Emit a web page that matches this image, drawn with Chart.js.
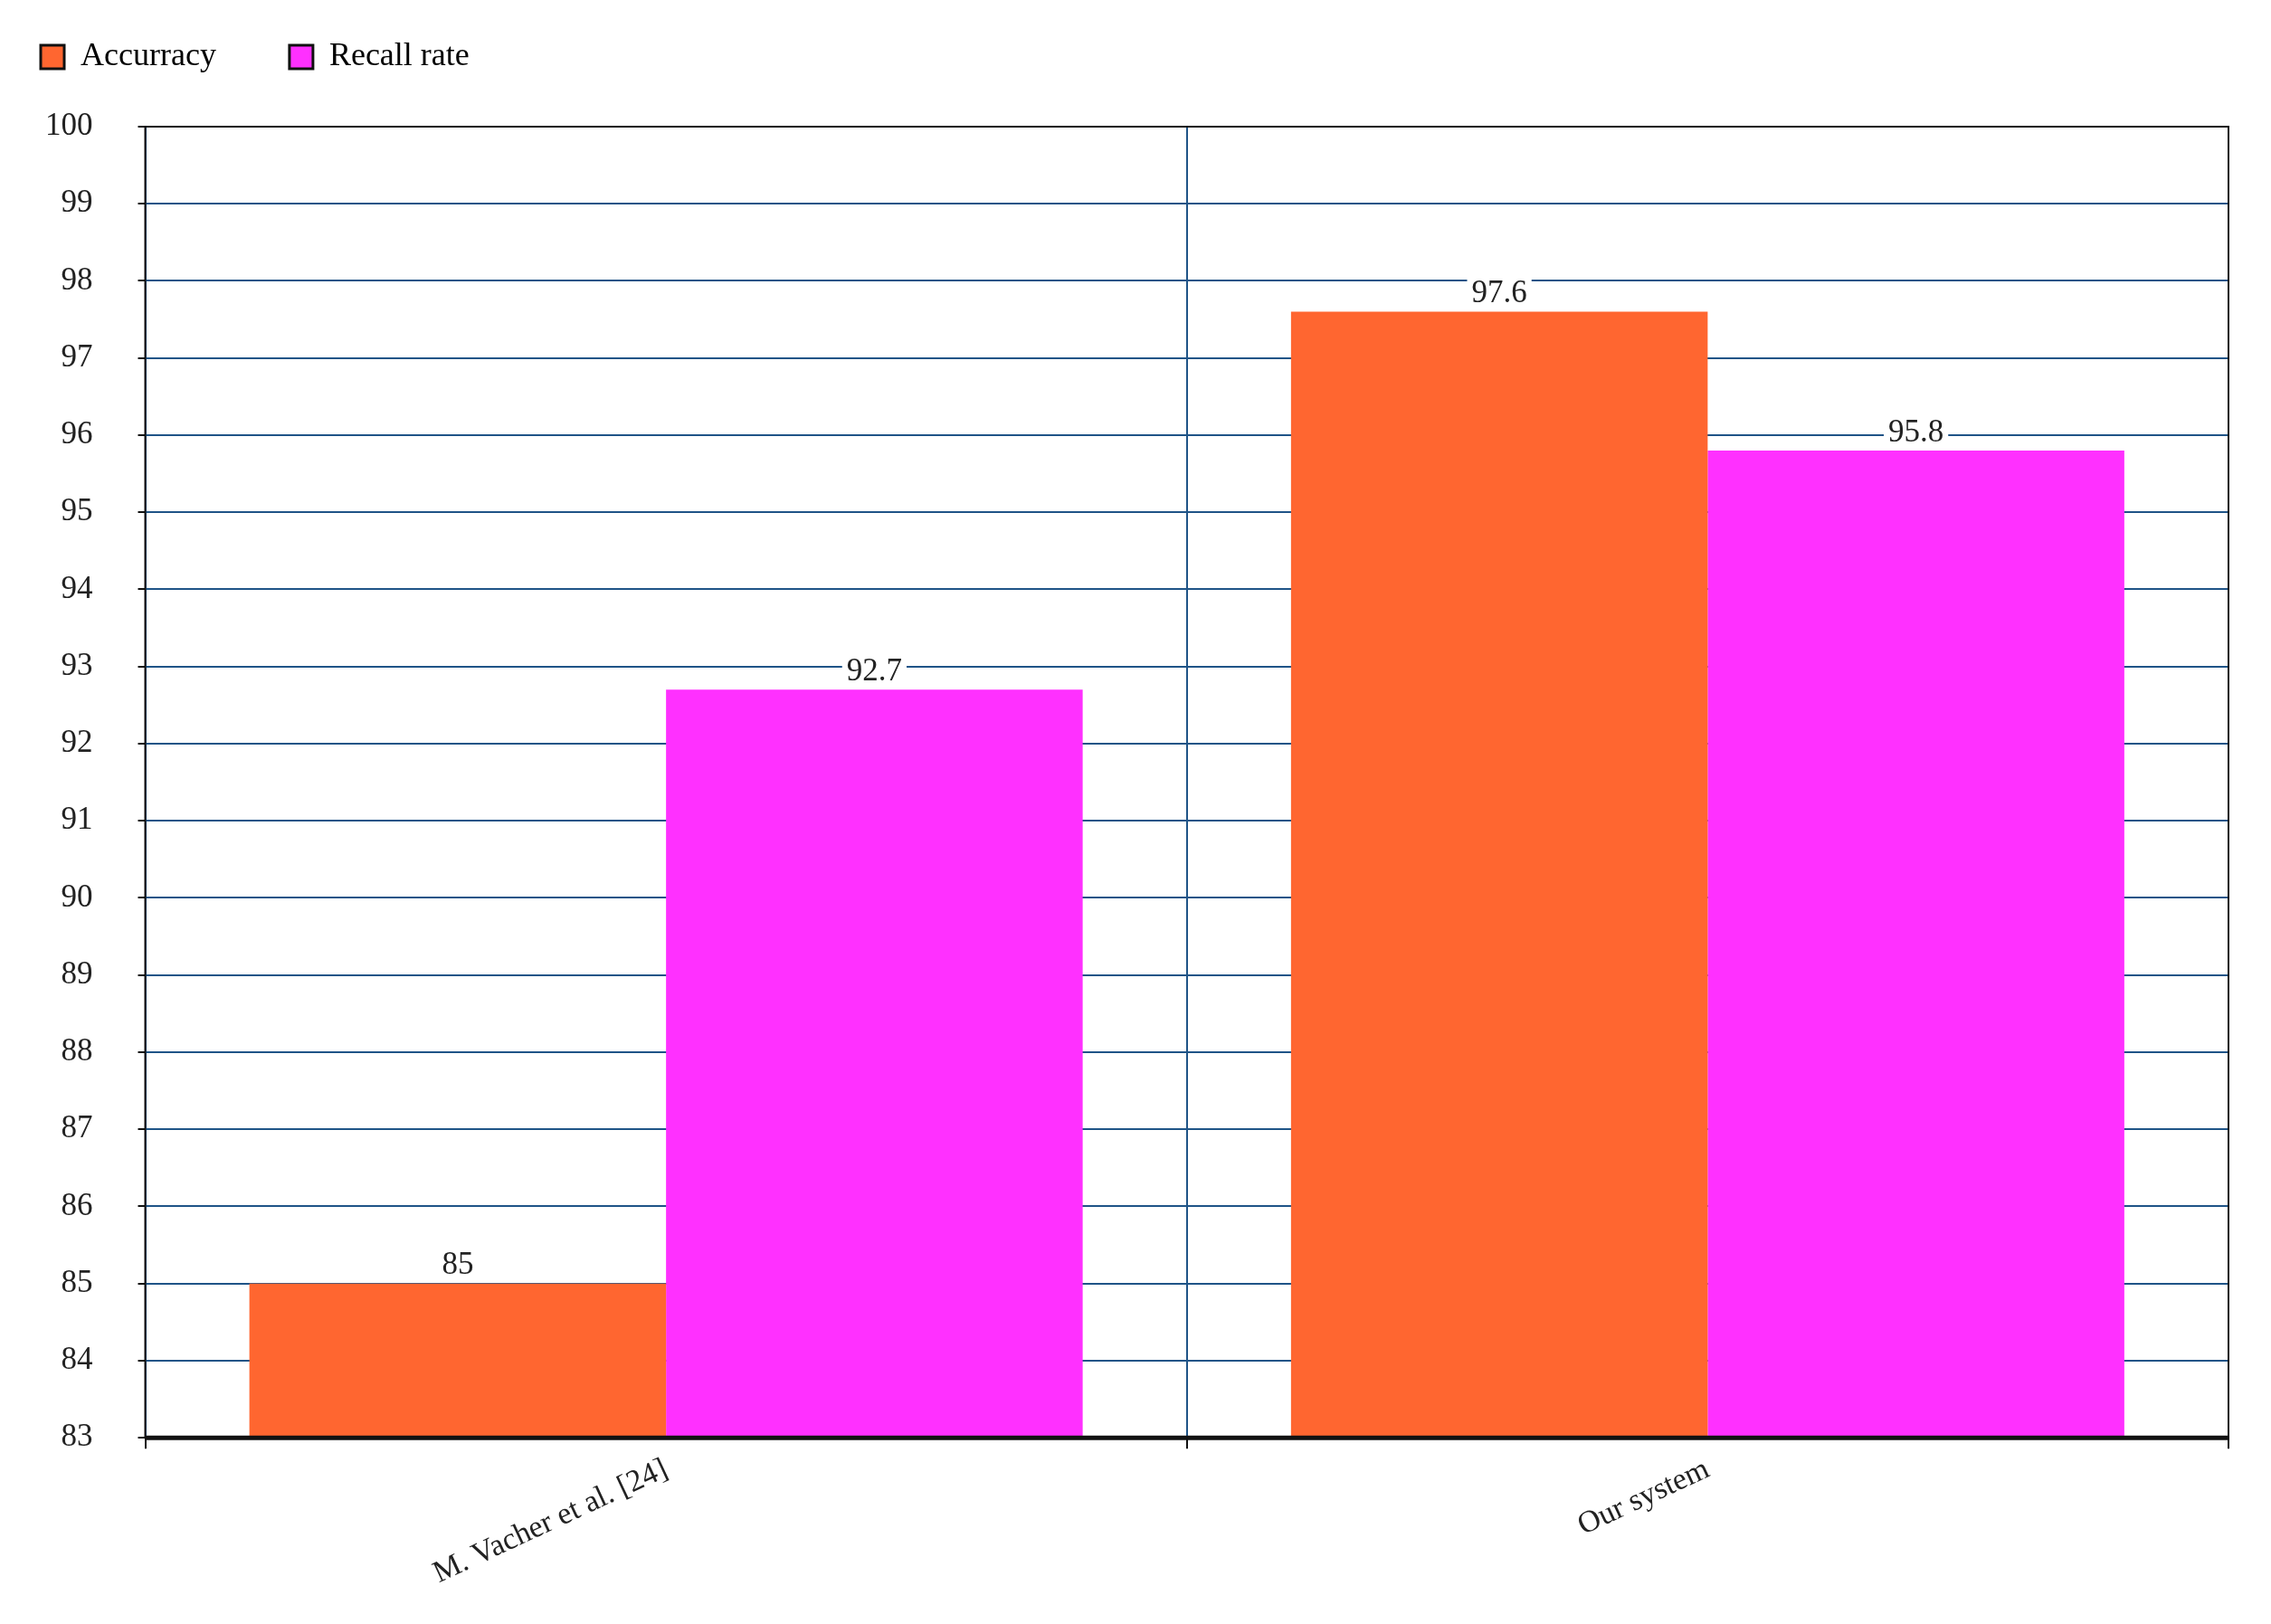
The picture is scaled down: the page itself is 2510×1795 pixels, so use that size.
<!DOCTYPE html>
<html>
<head>
<meta charset="utf-8">
<script src="https://cdn.jsdelivr.net/npm/chart.js@4/dist/chart.umd.min.js"></script>
<style>
  html, body { margin: 0; padding: 0; background: #fff; }
  #wrap { width: 2510px; height: 1795px; }
</style>
</head>
<body>
<div id="wrap"><canvas id="myChart" width="2510" height="1795"></canvas></div>
<script>
const categories = ['M. Vacher et al. [24]', 'Our system'];
const accuracy = [85, 97.6];
const recallRate = [92.7, 95.8];
const seriesNames = ['Accurracy', 'Recall rate'];

const fontFamily = '"Liberation Serif", "DejaVu Serif", serif';
const gridBlue = '#1f5487';

// value labels over the bars, with a white patch behind them
const valueLabels = {
    id: 'valueLabels',
    afterDatasetsDraw(chart) {
        const ctx = chart.ctx;
        ctx.save();
        ctx.font = '35px ' + fontFamily;
        ctx.textAlign = 'center';
        ctx.textBaseline = 'bottom';
        chart.data.datasets.forEach(function (ds, i) {
            chart.getDatasetMeta(i).data.forEach(function (bar, j) {
                let txt = String(ds.data[j]);
                let w = ctx.measureText(txt).width + 10;
                ctx.fillStyle = '#fff';
                ctx.fillRect(bar.x - w / 2, bar.y - 40, w, 38);
                ctx.fillStyle = '#222';
                ctx.fillText(txt, bar.x, bar.y - 2);
            });
        });
        ctx.restore();
    }
};

// black frame around the plot area
const frame = {
    id: 'frame',
    afterDraw(chart) {
        const a = chart.chartArea;
        const ctx = chart.ctx;
        ctx.save();
        ctx.strokeStyle = '#111';
        ctx.lineWidth = 2;
        ctx.strokeRect(a.left, a.top, a.right - a.left, a.bottom - a.top);
        ctx.lineWidth = 5;
        ctx.beginPath();
        ctx.moveTo(a.left, a.bottom);
        ctx.lineTo(a.right, a.bottom);
        ctx.stroke();
        ctx.restore();
    }
};

// leave more room under the legend
const legendGap = {
    id: 'legendGap',
    beforeInit(chart) {
        const fit = chart.legend.fit;
        chart.legend.fit = function () {
            fit.bind(chart.legend)();
            this.height = 140;
        };
    }
};

new Chart(document.getElementById('myChart').getContext('2d'), {
    type: 'bar',
    data: {
        labels: categories,
        datasets: [{
            label: seriesNames[0],
            data: accuracy,
            backgroundColor: '#ff6630',
            borderWidth: 0,
            barPercentage: 1.0,
            categoryPercentage: 0.8
        }, {
            label: seriesNames[1],
            data: recallRate,
            backgroundColor: '#ff30ff',
            borderWidth: 0,
            barPercentage: 1.0,
            categoryPercentage: 0.8
        }]
    },
    options: {
        responsive: false,
        animation: false,
        layout: { padding: { left: 0, right: 47, top: 0, bottom: 32 } },
        plugins: {
            tooltip: { enabled: false },
            legend: {
                position: 'top',
                align: 'start',
                labels: {
                    font: { family: fontFamily, size: 36 },
                    color: '#222',
                    boxWidth: 26,
                    boxHeight: 26,
                    padding: 45,
                    generateLabels(chart) {
                        return chart.data.datasets.map(function (ds, i) {
                            return {
                                text: ds.label + '    ',
                                fillStyle: ds.backgroundColor,
                                strokeStyle: '#111',
                                lineWidth: 3,
                                datasetIndex: i
                            };
                        });
                    }
                }
            }
        },
        scales: {
            x: {
                offset: true,
                grid: { color: gridBlue, lineWidth: 2, offset: true, tickLength: 12, tickColor: '#111' },
                border: { display: false },
                ticks: {
                    font: { family: fontFamily, size: 34 },
                    color: '#222',
                    minRotation: 25,
                    maxRotation: 25
                }
            },
            y: {
                min: 83,
                max: 100,
                grid: { color: gridBlue, lineWidth: 2, tickLength: 8, tickColor: '#111' },
                border: { display: false },
                ticks: {
                    stepSize: 1,
                    font: { family: fontFamily, size: 35 },
                    color: '#222',
                    padding: 50
                }
            }
        }
    },
    plugins: [valueLabels, frame, legendGap]
});
</script>
</body>
</html>
